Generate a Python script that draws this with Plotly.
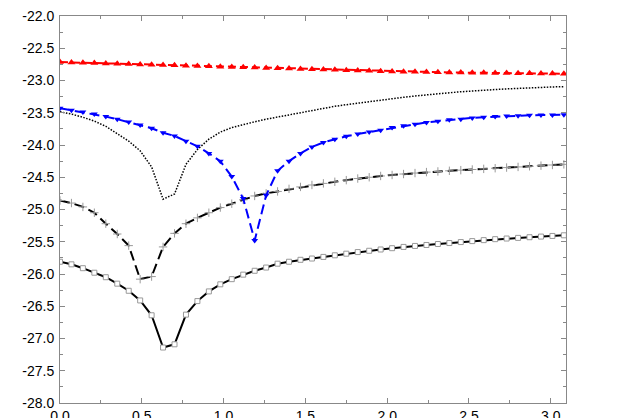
import plotly.graph_objects as go

x = [0.00, 0.07, 0.14, 0.21, 0.28, 0.35, 0.42, 0.49, 0.56, 0.63, 0.70, 0.77, 0.84, 0.91, 0.98,
     1.05, 1.12, 1.19, 1.26, 1.33, 1.40, 1.47, 1.54, 1.61, 1.68, 1.75, 1.82, 1.89, 1.96, 2.03,
     2.10, 2.17, 2.24, 2.31, 2.38, 2.45, 2.52, 2.59, 2.66, 2.73, 2.80, 2.87, 2.94, 3.01, 3.08]

red_tri = [-22.715, -22.72, -22.725, -22.73, -22.735, -22.74, -22.745, -22.75, -22.755, -22.76,
           -22.765, -22.77, -22.775, -22.78, -22.785, -22.79, -22.795, -22.80, -22.805, -22.81,
           -22.815, -22.82, -22.825, -22.83, -22.835, -22.84, -22.845, -22.85, -22.855, -22.86,
           -22.863, -22.866, -22.869, -22.872, -22.875, -22.877, -22.879, -22.881, -22.883, -22.885,
           -22.887, -22.889, -22.891, -22.893, -22.895]

dotted = [-23.485, -23.52, -23.57, -23.63, -23.71, -23.82, -23.94, -24.09, -24.34, -24.84,
          -24.76, -24.30, -24.07, -23.91, -23.80, -23.73, -23.68, -23.64, -23.60, -23.565,
          -23.53, -23.495, -23.46, -23.43, -23.40, -23.375, -23.35, -23.325, -23.30, -23.28,
          -23.26, -23.24, -23.22, -23.205, -23.19, -23.175, -23.16, -23.15, -23.14, -23.13,
          -23.12, -23.115, -23.11, -23.10, -23.095]

blue_tri = [-23.43, -23.46, -23.49, -23.52, -23.56, -23.60, -23.645, -23.69, -23.74, -23.81,
            -23.86, -23.94, -24.02, -24.13, -24.25, -24.49, -24.83, -25.48, -24.78, -24.40,
            -24.25, -24.13, -24.03, -23.96, -23.91, -23.865, -23.83, -23.80, -23.77, -23.73,
            -23.70, -23.68, -23.65, -23.63, -23.61, -23.60, -23.58, -23.57, -23.56, -23.55,
            -23.545, -23.54, -23.535, -23.535, -23.53]

dashed_plus = [-24.86, -24.90, -24.96, -25.05, -25.22, -25.38, -25.56, -26.08, -26.04, -25.58,
               -25.37, -25.22, -25.13, -25.05, -24.97, -24.91, -24.85, -24.79, -24.75, -24.72,
               -24.68, -24.65, -24.62, -24.595, -24.57, -24.545, -24.52, -24.50, -24.48, -24.465,
               -24.45, -24.435, -24.42, -24.41, -24.40, -24.39, -24.38, -24.37, -24.36, -24.35,
               -24.34, -24.33, -24.32, -24.31, -24.30]

squares = [-25.81, -25.85, -25.91, -25.98, -26.05, -26.15, -26.26, -26.41, -26.64, -27.14,
           -27.09, -26.63, -26.42, -26.27, -26.16, -26.08, -26.01, -25.95, -25.90, -25.84,
           -25.81, -25.78, -25.76, -25.735, -25.71, -25.685, -25.66, -25.64, -25.62, -25.60,
           -25.58, -25.565, -25.55, -25.535, -25.52, -25.505, -25.49, -25.475, -25.46, -25.45,
           -25.44, -25.43, -25.42, -25.41, -25.40]

x_tickvals = [0.0, 0.5, 1.0, 1.5, 2.0, 2.5, 3.0]
x_ticktext = ["0.0", "0.5", "1.0", "1.5", "2.0", "2.5", "3.0"]
y_tickvals = [-28.0, -27.5, -27.0, -26.5, -26.0, -25.5, -25.0, -24.5, -24.0, -23.5, -23.0, -22.5, -22.0]
y_ticktext = ["-28.0", "-27.5", "-27.0", "-26.5", "-26.0", "-25.5", "-25.0", "-24.5", "-24.0",
              "-23.5", "-23.0", "-22.5", "-22.0"]

fig = go.Figure()

fig.add_trace(go.Scatter(x=x, y=dotted, mode="lines",
                         line=dict(color="black", width=1.5, dash="1.5px,1.5px")))
fig.add_trace(go.Scatter(x=x, y=dashed_plus, mode="lines+markers",
                         line=dict(color="black", width=2, dash="10px,5px"),
                         marker=dict(symbol="cross-thin", size=6,
                                     line=dict(color="#999999", width=1))))
fig.add_trace(go.Scatter(x=x, y=squares, mode="lines+markers",
                         line=dict(color="black", width=2),
                         marker=dict(symbol="square", size=5, color="white",
                                     line=dict(color="#999999", width=1))))
fig.add_trace(go.Scatter(x=x, y=blue_tri, mode="lines+markers",
                         line=dict(color="blue", width=2, dash="10px,5px"),
                         marker=dict(symbol="triangle-down", size=6, color="blue")))
fig.add_trace(go.Scatter(x=x, y=red_tri, mode="lines+markers",
                         line=dict(color="red", width=2, dash="8px,4px"),
                         marker=dict(symbol="triangle-up", size=7, color="red")))

axis_common = dict(showgrid=False, zeroline=False, showline=True, linecolor="#888888",
                   linewidth=1, mirror="ticks", ticks="inside", ticklen=5, tickcolor="#888888",
                   tickfont=dict(family="Liberation Sans, Arial, sans-serif", size=14, color="black"))

fig.update_xaxes(range=[0, 3.093], tickmode="array", tickvals=x_tickvals, ticktext=x_ticktext,
                 minor=dict(ticks="inside", ticklen=3, tickcolor="#888888", dtick=0.25),
                 **axis_common)
fig.update_yaxes(range=[-28, -22], tickmode="array", tickvals=y_tickvals, ticktext=y_ticktext,
                 minor=dict(ticks="inside", ticklen=3, tickcolor="#888888", dtick=0.25),
                 ticklabelstandoff=2, **axis_common)

fig.update_layout(width=628, height=418, showlegend=False,
                  paper_bgcolor="white", plot_bgcolor="white",
                  margin=dict(l=60, r=62, t=16, b=15, autoexpand=False))

fig.write_html("out.html", config={"displayModeBar": False},
               post_script="document.body.style.margin='0';document.body.style.overflow='hidden';")
